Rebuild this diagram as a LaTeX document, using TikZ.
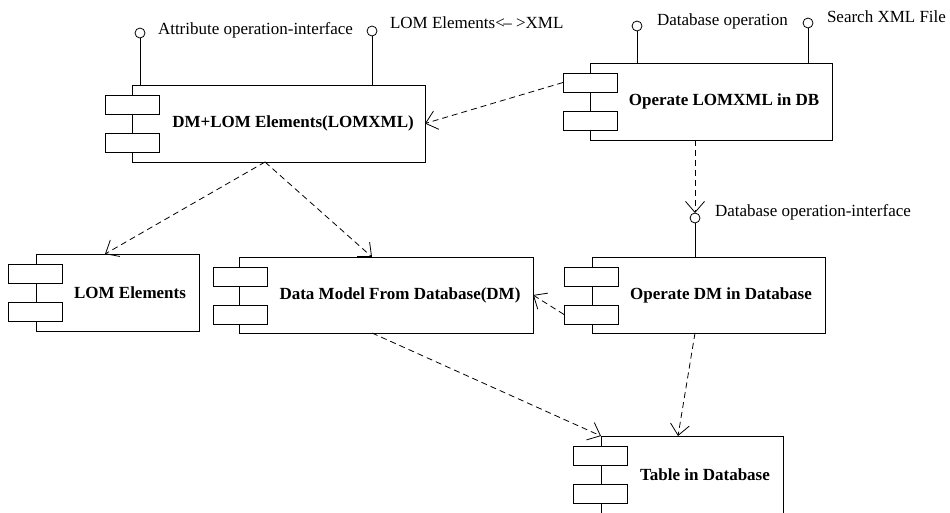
\documentclass[tikz,border=0pt]{standalone}
\usepackage{fontspec}
\setmainfont{Liberation Serif}
\usetikzlibrary{arrows.meta,calc}

\begin{document}
\begin{tikzpicture}[x=1pt,y=-1pt,
  every node/.style={inner sep=0pt,outer sep=0pt},
  comp/.style={draw,line width=0.9pt,anchor=north west,fill=white},
  port/.style={draw,line width=0.9pt,anchor=north west,fill=white,minimum width=54pt,minimum height=19pt},
  title/.style={font=\fontsize{17}{20}\selectfont\bfseries},
  note/.style={font=\fontsize{17}{20}\selectfont,anchor=west},
  iface/.style={draw,circle,line width=0.8pt,minimum size=10pt,fill=white},
  dep/.style={line width=0.8pt,dash pattern=on 6pt off 4pt,-{Straight Barb[length=11pt,width=19pt]}},
  wire/.style={line width=0.8pt}]

\useasboundingbox (0,0) rectangle (950,512);
\clip (0,0) rectangle (950,512);

% DM+LOM Elements component
\node[comp,minimum width=293pt,minimum height=77pt] (b1) at (132,85) {};
\node[port] (b1p1) at (105,95) {};
\node[port] (b1p2) at (105,133) {};
\node[title] (b1t) at (293,123.5) {DM+LOM Elements(LOMXML)};

% Operate LOMXML in DB component
\node[comp,minimum width=242pt,minimum height=77pt] (b2) at (590,63) {};
\node[port] (b2p1) at (563,73) {};
\node[port] (b2p2) at (563,111) {};
\node[title] (b2t) at (724,101.5) {Operate LOMXML in DB};

% LOM Elements component
\node[comp,minimum width=163pt,minimum height=77pt] (b3) at (36,254) {};
\node[port] (b3p1) at (8,264) {};
\node[port] (b3p2) at (8,302) {};
\node[title] (b3t) at (130,292.5) {LOM Elements};

% Data model component
\node[comp,minimum width=294pt,minimum height=76pt] (dm) at (239,257) {};
\node[port] (dmp1) at (213,267) {};
\node[port] (dmp2) at (213,305) {};
\node[title] (dmt) at (400,295) {Data Model From Database(DM)};

% Operate DM in Database component
\node[comp,minimum width=233pt,minimum height=76pt] (op) at (592,257) {};
\node[port] (opp1) at (564,267) {};
\node[port] (opp2) at (564,305) {};
\node[title] (opt) at (721,295) {Operate DM in Database};

% Table in Database component
\node[comp,minimum width=182pt,minimum height=77pt] (tb) at (601,436) {};
\node[port] (tbp1) at (573,446) {};
\node[port] (tbp2) at (573,484) {};
\node[title] (tbt) at (705,474.5) {Table in Database};

% provided interfaces
\node[iface] (i1) at (140,33) {};
\draw[wire] (i1) -- (i1 |- b1.north);
\node[note] (i1t) at (158,30) {Attribute operation-interface};

\node[iface] (i2) at (372,31) {};
\draw[wire] (i2) -- (i2 |- b1.north);
\node[note] (i2t) at (390,23) {LOM Elements<\kern-1.5pt–\ >XML};

\node[iface] (i3) at (637,26) {};
\draw[wire] (i3) -- (i3 |- b2.north);
\node[note] (i3t) at (657,21) {Database operation};

\node[iface] (i4) at (808,23) {};
\draw[wire] (i4) -- (i4 |- b2.north);
\node[note] (i4t) at (827,17) {Search XML File};

\node[iface] (i5) at (695,218) {};
\draw[wire] (i5) -- (i5 |- op.north);
\node[note] (i5t) at (715,212) {Database operation-interface};

% dependencies
\coordinate (fork) at ([xshift=-13.5pt]b1.south);
\draw[dep] (b2p1.west) -- (b1.east);
\draw[dep] (fork) -- ([xshift=-12.5pt]b3.north);
\draw[dep] (fork) -- ([xshift=-14pt]dm.north);
\draw[dep] (opp2.west) -- (dm.east);
\draw[dep] ([xshift=-14pt]dm.south) -- (tb.north west);
\draw[dep] ([xshift=-13.5pt]op.south) -- ([xshift=-14pt]tb.north);
\draw[dep] (b2.south -| i5) -- (i5.north);
\end{tikzpicture}
\end{document}
